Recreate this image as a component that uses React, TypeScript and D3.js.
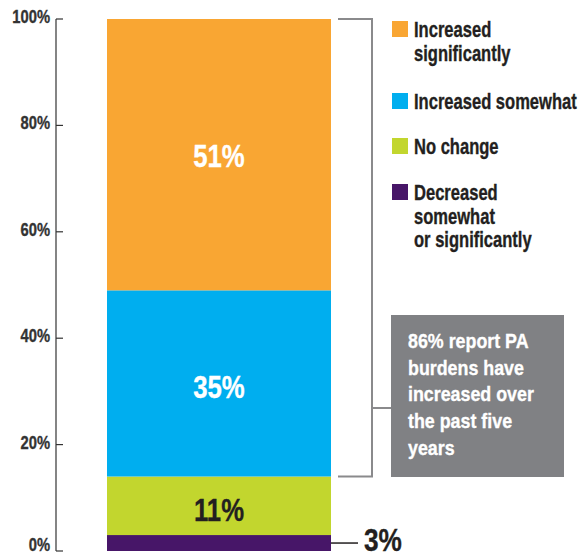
import React from 'react';
import * as d3 from 'd3';

const categories = ['Decreased somewhat or significantly', 'No change', 'Increased somewhat', 'Increased significantly'];
const values = [3, 11, 35, 51];
const colors = ['#471668', '#c2d62e', '#00aeef', '#f9a633'];
const legendLines = [
  ['Increased', 'significantly'],
  ['Increased somewhat'],
  ['No change'],
  ['Decreased', 'somewhat', 'or significantly'],
];
const legendColors = ['#f9a633', '#00aeef', '#c2d62e', '#471668'];
const yTicks = [0, 20, 40, 60, 80, 100];
const noteLines = ['86% report PA', 'burdens have', 'increased over', 'the past five', 'years'];

const FONT = "'Liberation Sans', Arial, sans-serif";

// condensed bold text: a normal bold face squeezed horizontally
const CText: React.FC<{
  x: number;
  y: number;
  size: number;
  sx: number;
  fill: string;
  anchor?: 'start' | 'middle' | 'end';
  children: React.ReactNode;
}> = ({ x, y, size, sx, fill, anchor = 'start', children }) => (
  <g transform={`translate(${x},${y}) scale(${sx},1)`}>
    <text
      textAnchor={anchor}
      fontFamily={FONT}
      fontWeight="bold"
      fontSize={size}
      fill={fill}
      stroke={fill}
      strokeWidth={0.35}
    >
      {children}
    </text>
  </g>
);

const App: React.FC = () => {
  const width = 579;
  const height = 553;

  const y = d3.scaleLinear().domain([0, 100]).range([551, 19]);
  const x = d3.scaleBand().domain(['all']).range([107, 331]).padding(0);

  const stacked = d3.cumsum(values);
  const segs = values.map((v, i) => ({
    name: categories[i],
    value: v,
    y0: stacked[i] - v,
    y1: stacked[i],
    color: colors[i],
  }));

  const bx = x('all') as number;
  const bw = x.bandwidth();
  const increasedTop = y(100);
  const increasedBottom = y(segs[2].y0);
  const calloutY = y(segs[0].y1) + 8;

  return (
    <svg width={width} height={height} style={{ position: 'absolute', left: 0, top: 0 }}>
      {/* axis */}
      <line x1={56} x2={56} y1={y(100)} y2={y(0)} stroke="#333" strokeWidth={1.2} />
      {yTicks.map((t) => (
        <g key={t}>
          <line x1={56} x2={63} y1={y(t)} y2={y(t)} stroke="#333" strokeWidth={1.2} />
          <CText x={50} y={Math.min(y(t) + 4, 551)} size={18} sx={0.82} fill="#333" anchor="end">
            {t}%
          </CText>
        </g>
      ))}

      {/* bars */}
      {segs.map((s) => (
        <rect key={s.name} x={bx} width={bw} y={y(s.y1)} height={y(s.y0) - y(s.y1)} fill={s.color} />
      ))}
      {segs.slice(1).map((s, i) => (
        <CText
          key={s.name}
          x={bx + bw / 2}
          y={(y(s.y0) + y(s.y1)) / 2 + 12 + (i < 2 ? 3 : 0)}
          size={31}
          sx={0.83}
          fill={i === 0 ? '#231f20' : '#fff'}
          anchor="middle"
        >
          {s.value}%
        </CText>
      ))}

      {/* 3% callout */}
      <line x1={bx + bw} x2={358} y1={calloutY} y2={calloutY} stroke="#231f20" strokeWidth={1.5} />
      <CText x={364} y={551} size={32} sx={0.82} fill="#231f20">
        {values[0]}%
      </CText>

      {/* bracket */}
      <path
        d={`M338,${increasedTop}H372V${increasedBottom}H338M372,408H391`}
        fill="none"
        stroke="#8a8a8c"
        strokeWidth={2}
      />
      <rect x={391} y={315} width={173} height={162} fill="#808184" />
      {noteLines.map((l, i) => (
        <CText key={l} x={408} y={348 + i * 26.7} size={21} sx={0.85} fill="#fff">
          {l}
        </CText>
      ))}

      {/* legend */}
      {(() => {
        const starts = [21, 93, 138, 184];
        return legendLines.map((lines, i) => (
          <g key={i}>
            <rect x={392} y={starts[i]} width={16} height={16} fill={legendColors[i]} />
            {lines.map((l, j) => (
              <CText key={j} x={414} y={starts[i] + 16 + j * 23.5} size={21.5} sx={0.77} fill="#231f20">
                {l}
              </CText>
            ))}
          </g>
        ));
      })()}
    </svg>
  );
};

export default App;
